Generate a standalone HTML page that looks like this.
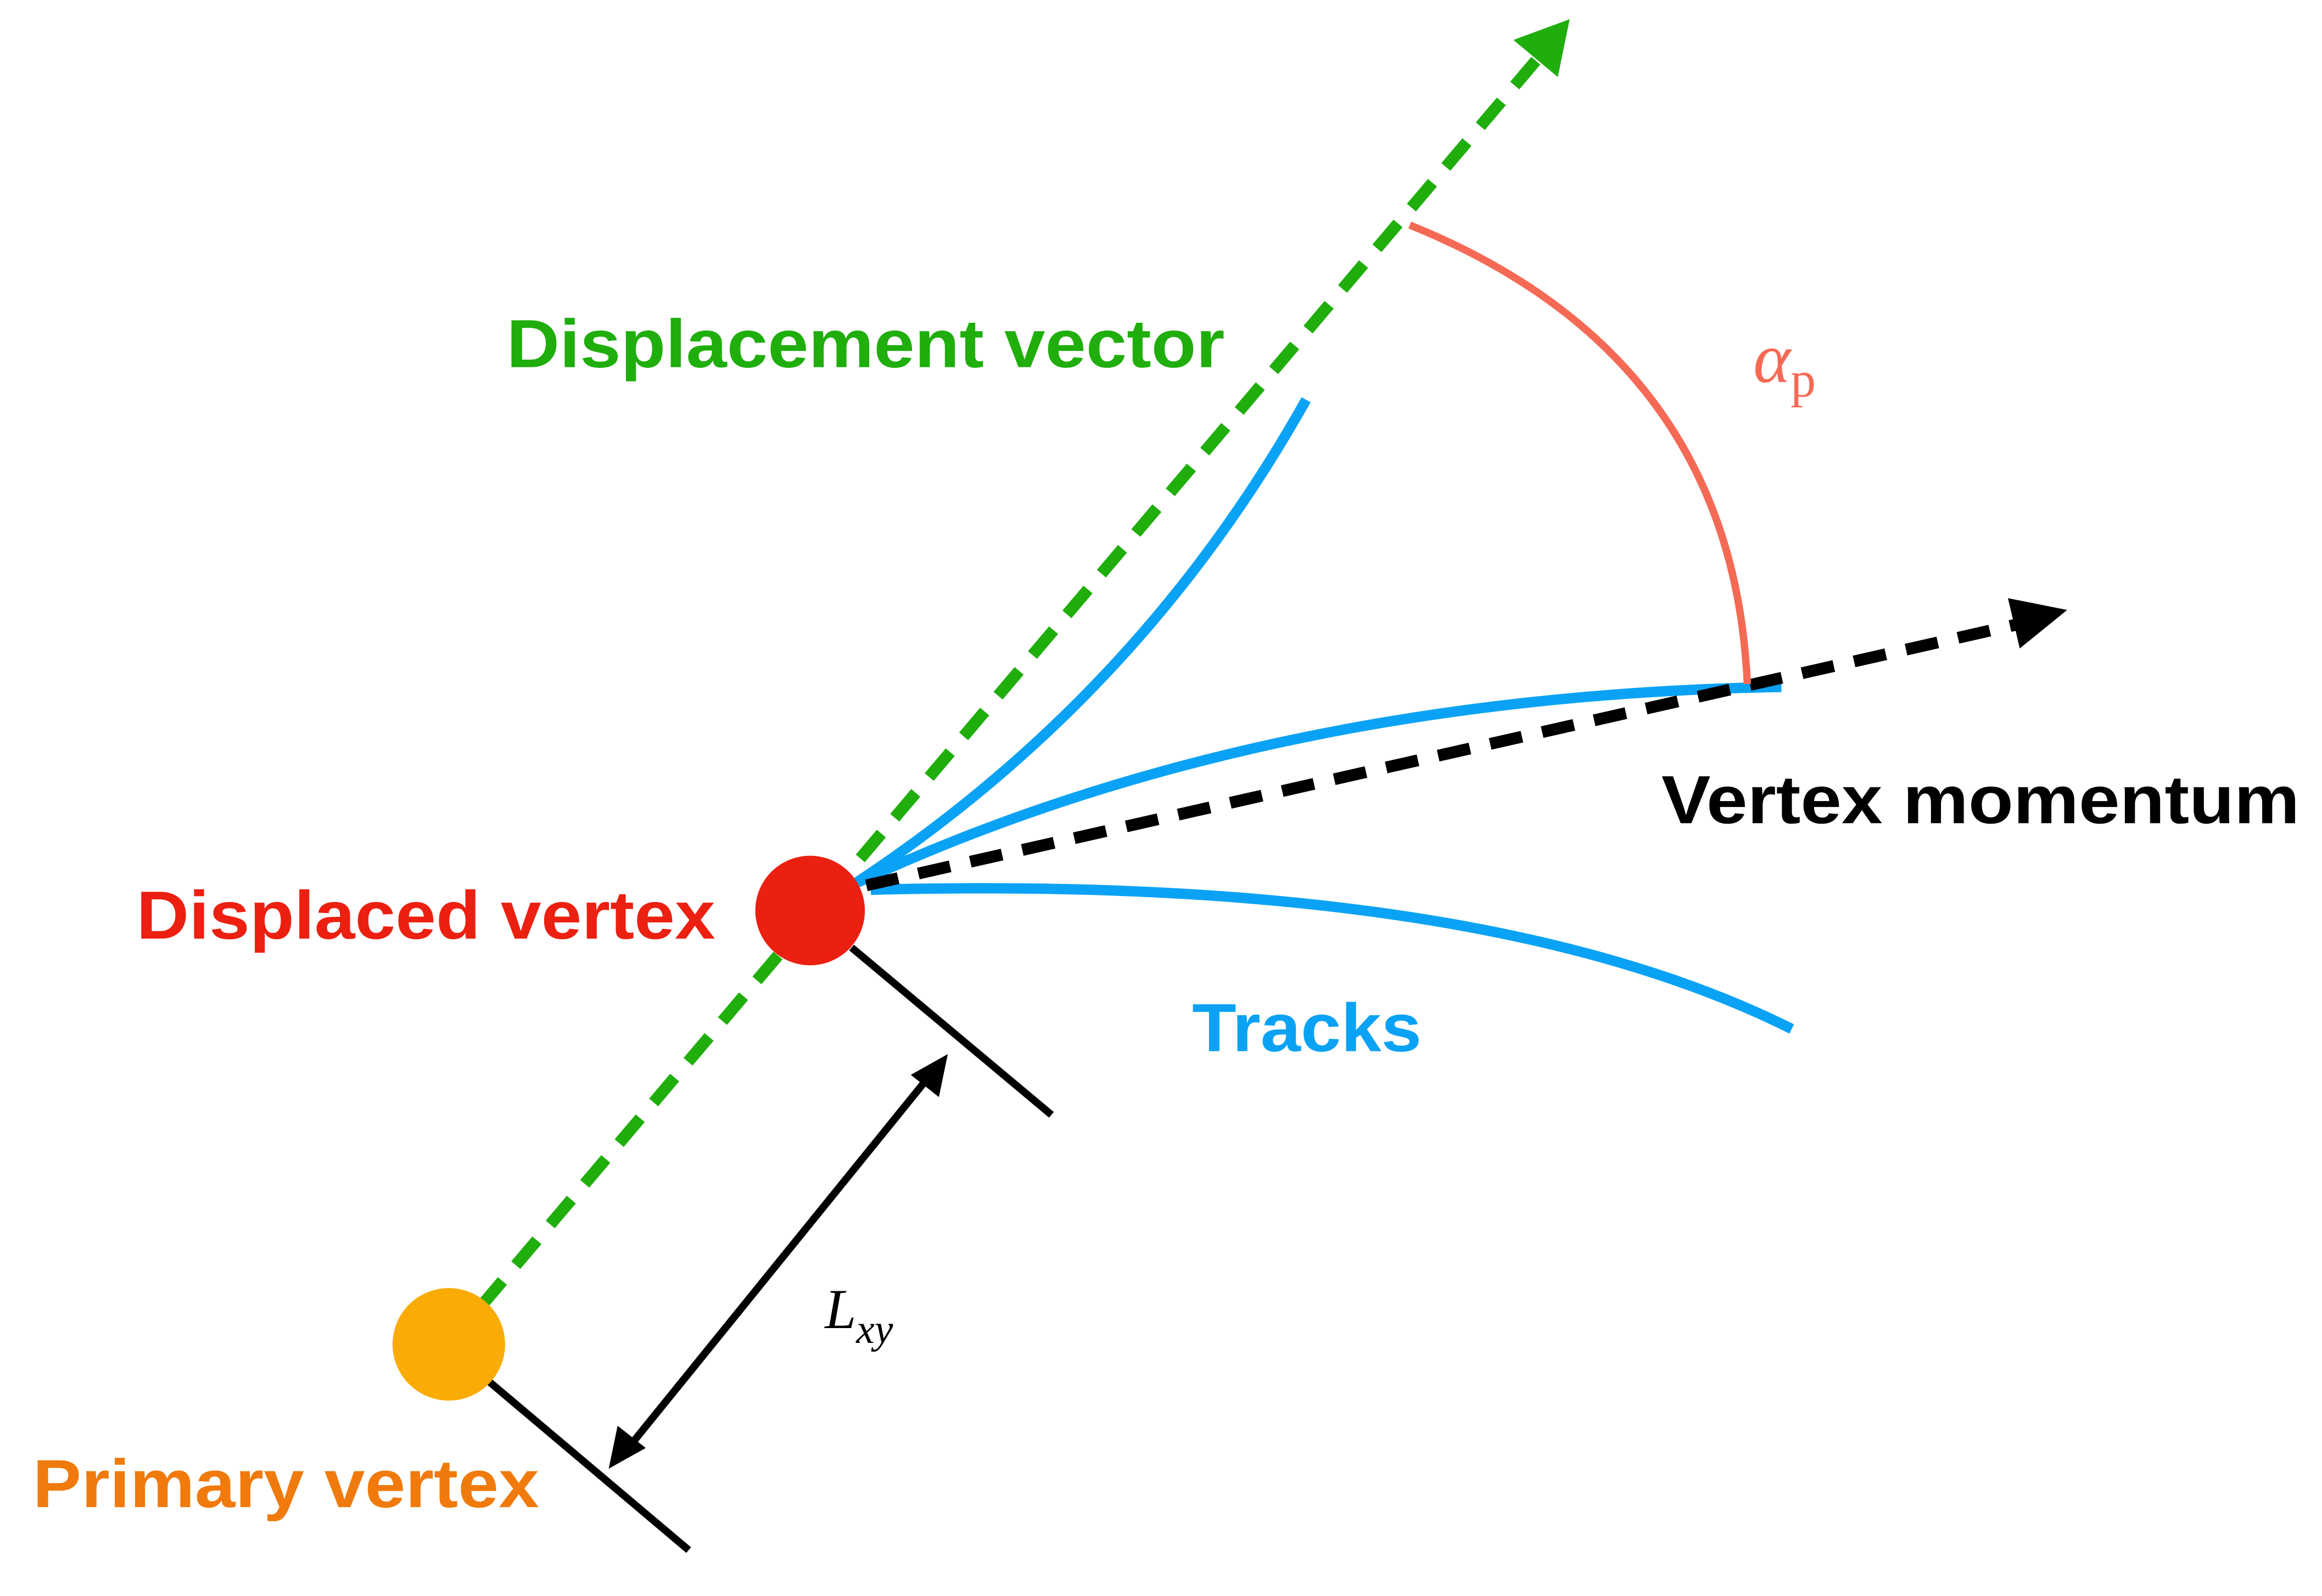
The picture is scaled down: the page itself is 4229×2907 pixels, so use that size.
<!DOCTYPE html>
<html><head><meta charset="utf-8"><style>
html,body{margin:0;padding:0;background:#fff;}
svg{display:block;}
</style></head><body>
<svg width="4229" height="2907" viewBox="0 0 1568 1078" xmlns="http://www.w3.org/2000/svg">
<rect width="1568" height="1078" fill="#fff"/>
<line x1="325" y1="882" x2="1038" y2="40" stroke="#1fae0c" stroke-width="8" stroke-dasharray="22 14"/>
<polygon points="1060,13 1052,52 1022,27" fill="#1fae0c"/>
<path d="M577,597 Q770,470 882,270" fill="none" stroke="#0aa2f5" stroke-width="7"/>
<path d="M577,597 Q850,470 1203,464" fill="none" stroke="#0aa2f5" stroke-width="7"/>
<path d="M588,601 Q1000,590 1210,695" fill="none" stroke="#0aa2f5" stroke-width="7"/>
<line x1="585" y1="598" x2="1370" y2="420" stroke="#000" stroke-width="8" stroke-dasharray="22 14"/>
<polygon points="1396,412 1364,438 1356,404" fill="#000"/>
<path d="M952,152 Q1170,240 1180,462" fill="none" stroke="#f56a55" stroke-width="5"/>
<line x1="575" y1="640" x2="710" y2="753" stroke="#000" stroke-width="5"/>
<line x1="330" y1="933" x2="465" y2="1047" stroke="#000" stroke-width="5"/>
<line x1="625" y1="730" x2="425" y2="977" stroke="#000" stroke-width="5"/>
<polygon points="640,712 634,741 615,726" fill="#000"/>
<polygon points="411,992 417,963 436,978" fill="#000"/>
<circle cx="547" cy="615" r="37" fill="#ec2010"/>
<circle cx="303" cy="908" r="38" fill="#fbab05"/>
<g font-family="Liberation Sans, sans-serif" font-weight="bold" font-size="46">
<text x="342" y="248" fill="#1fae0c" textLength="485" lengthAdjust="spacingAndGlyphs">Displacement vector</text>
<text x="92" y="634" fill="#ec2010" textLength="391" lengthAdjust="spacingAndGlyphs">Displaced vertex</text>
<text x="22" y="1018" fill="#f07a0c" textLength="342" lengthAdjust="spacingAndGlyphs">Primary vertex</text>
<text x="805" y="710" fill="#0aa2f5" textLength="155" lengthAdjust="spacingAndGlyphs">Tracks</text>
<text x="1122" y="556" fill="#000" textLength="431" lengthAdjust="spacingAndGlyphs">Vertex momentum</text>
</g>
<text x="1184" y="258" font-family="Liberation Serif, serif" font-style="italic" font-size="48" fill="#f56a55">α<tspan font-style="normal" font-size="34" dy="10">p</tspan></text>
<text x="557" y="897" font-family="Liberation Serif, serif" font-style="italic" font-size="38" fill="#000">L<tspan font-size="28" dy="10">xy</tspan></text>
</svg>
</body></html>
